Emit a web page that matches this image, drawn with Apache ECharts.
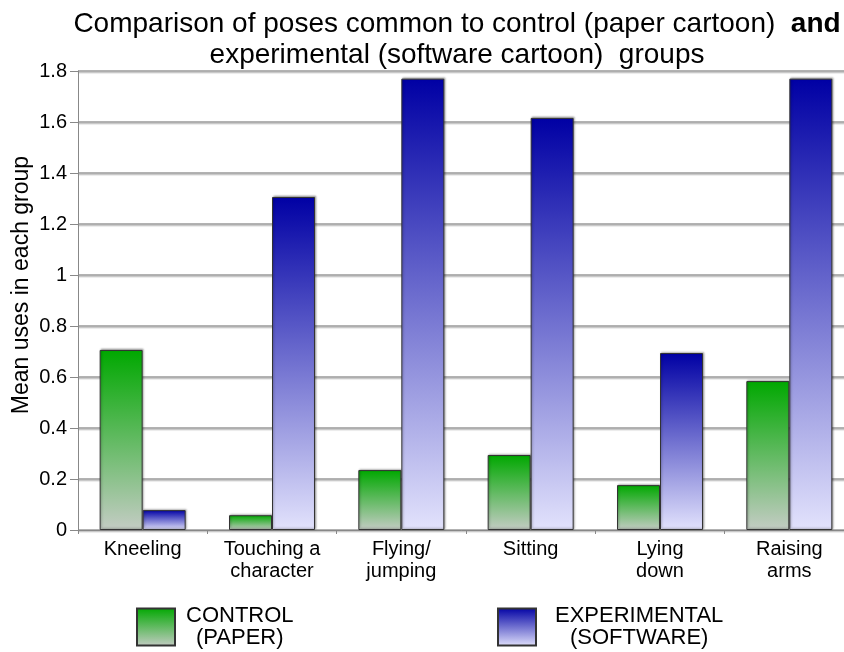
<!DOCTYPE html>
<html>
<head>
<meta charset="utf-8">
<script src="https://cdn.jsdelivr.net/npm/echarts@6/dist/echarts.min.js"></script>
<style>
  html, body { margin: 0; padding: 0; background: #fff; }
  #chart { width: 844px; height: 652px; }
</style>
</head>
<body>
<div id="chart"></div>
<script>
const categories = ['Kneeling', 'Touching a\ncharacter', 'Flying/\njumping', 'Sitting', 'Lying\ndown', 'Raising\narms']
const controlValues = [0.706, 0.058, 0.235, 0.294, 0.176, 0.584]
const experimentalValues = [0.078, 1.306, 1.77, 1.616, 0.694, 1.77]
const yTicks = [0, 0.2, 0.4, 0.6, 0.8, 1, 1.2, 1.4, 1.6, 1.8]

const font = '"Liberation Sans", Arial, sans-serif'

const greenFill = new echarts.graphic.LinearGradient(0, 0, 0, 1, [
  { offset: 0, color: '#00a800' },
  { offset: 1, color: '#c4ccc4' }
])
const blueFill = new echarts.graphic.LinearGradient(0, 0, 0, 1, [
  { offset: 0, color: '#0000a4' },
  { offset: 1, color: '#e2e2fc' }
])

const chart = echarts.init(document.getElementById('chart'))

const legendText = (a, b) => `{t|${a}}\n{t|${b}}`
const legendRich = { t: { align: 'center', fontSize: 22, lineHeight: 22, fontFamily: font, color: '#000' } }

const option = {
  animation: false,
  title: {
    text: '{n|Comparison of poses common to control (paper cartoon)  }{b|and}\n{n|experimental (software cartoon)  groups}',
    left: 452,
    top: 4,
    textAlign: 'center',
    textStyle: {
      fontWeight: 'normal',
      rich: {
        n: { fontSize: 28, fontFamily: font, color: '#000', fontWeight: 'normal', lineHeight: 31, align: 'center' },
        b: { fontSize: 28, fontFamily: font, color: '#000', fontWeight: 'bold', lineHeight: 31 }
      }
    }
  },
  graphic: [{
    type: 'text',
    x: 22,
    y: 285,
    rotation: Math.PI / 2,
    style: {
      text: 'Mean uses in each group',
      fontSize: 23,
      fontFamily: font,
      fill: '#000',
      align: 'center',
      verticalAlign: 'middle'
    }
  }],
  legend: [
    {
      data: ['CONTROL'],
      left: 131,
      top: 600,
      icon: 'rect',
      itemWidth: 38,
      itemHeight: 37,
      formatter: () => legendText('CONTROL', '(PAPER)'),
      textStyle: { rich: legendRich, padding: [0, 0, 0, 6] }
    },
    {
      data: ['EXPERIMENTAL'],
      left: 492,
      top: 600,
      icon: 'rect',
      itemWidth: 38,
      itemHeight: 37,
      formatter: () => legendText('EXPERIMENTAL', '(SOFTWARE)'),
      textStyle: { rich: legendRich, padding: [0, 0, 0, 14] }
    }
  ],
  grid: { left: 78, top: 71, width: 776, height: 459, outerBoundsMode: 'none' },
  xAxis: {
    type: 'category',
    data: categories,
    axisLine: { lineStyle: { color: '#888', width: 1 } },
    axisTick: { show: true, length: 4, lineStyle: { color: '#888' } },
    axisLabel: { fontSize: 20, lineHeight: 22, fontFamily: font, color: '#000', margin: 8 }
  },
  yAxis: {
    type: 'value',
    min: 0,
    max: 1.8,
    interval: 0.2,
    axisLine: { show: true, lineStyle: { color: '#888', width: 1 } },
    axisTick: { show: true, length: 8, lineStyle: { color: '#888' } },
    axisLabel: {
      fontSize: 20,
      fontFamily: font,
      color: '#000',
      margin: 11,
      formatter: v => yTicks.find(t => Math.abs(t - v) < 1e-6) !== undefined ? String(+v.toFixed(1)) : ''
    },
    splitLine: {
      lineStyle: { color: '#999', width: 1.5, shadowColor: 'rgba(0,0,0,0.25)', shadowOffsetY: 1.5, shadowBlur: 1 }
    }
  },
  series: [
    {
      name: 'CONTROL',
      type: 'bar',
      data: controlValues,
      barWidth: 43,
      barGap: '0%',
      itemStyle: {
        color: greenFill,
        borderColor: '#333',
        borderWidth: 1,
        shadowColor: 'rgba(0,0,0,0.3)',
        shadowBlur: 2,
        shadowOffsetX: 1,
        shadowOffsetY: -1
      }
    },
    {
      name: 'EXPERIMENTAL',
      type: 'bar',
      data: experimentalValues,
      barWidth: 43,
      itemStyle: {
        color: blueFill,
        borderColor: '#333',
        borderWidth: 1,
        shadowColor: 'rgba(0,0,0,0.3)',
        shadowBlur: 2,
        shadowOffsetX: 1,
        shadowOffsetY: -1
      }
    }
  ]
}

chart.setOption(option)
</script>
</body>
</html>
